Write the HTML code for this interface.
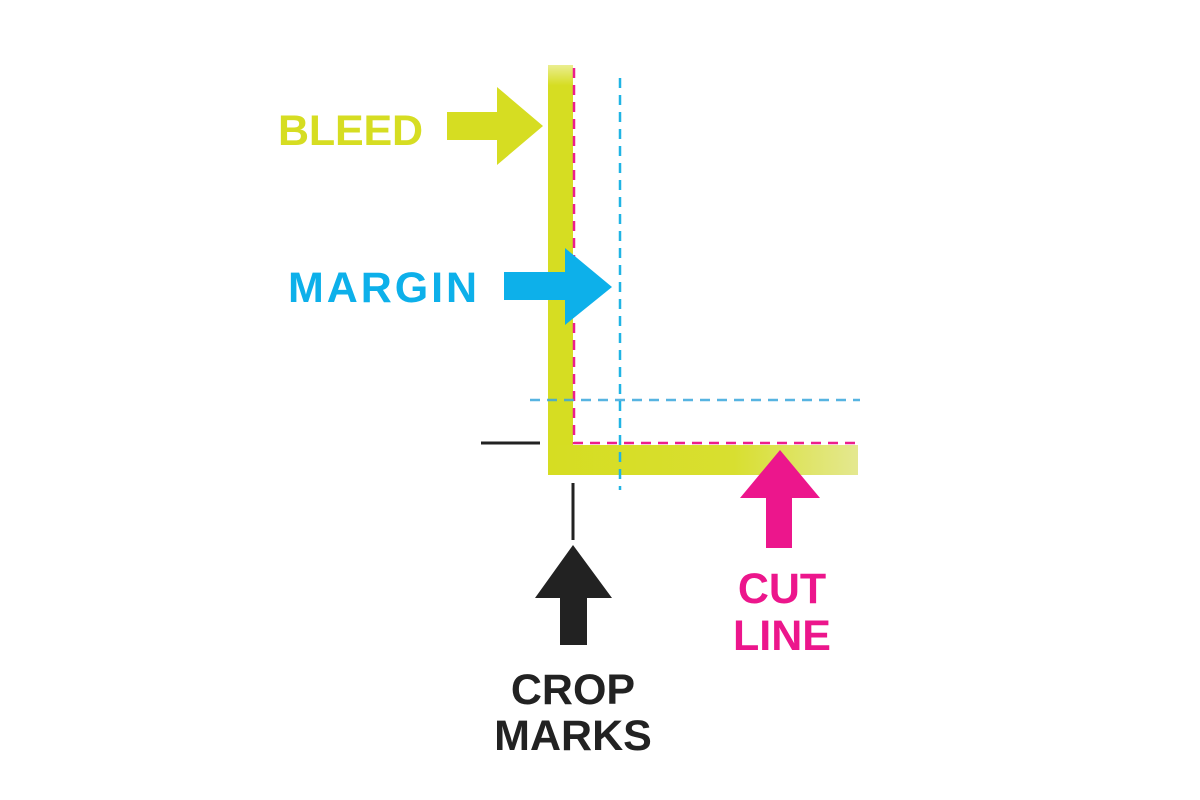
<!DOCTYPE html>
<html><head><style>body{margin:0;background:#fff}svg{display:block}</style></head><body>
<svg width="1200" height="800" xmlns="http://www.w3.org/2000/svg" font-family="Liberation Sans, sans-serif" font-weight="bold">
<defs>
<linearGradient id="gv" x1="0" y1="0" x2="0" y2="1"><stop offset="0" stop-color="#d6dd22" stop-opacity="0.5"/><stop offset="0.05" stop-color="#d6dd22"/><stop offset="1" stop-color="#d6dd22"/></linearGradient>
<linearGradient id="gh" x1="0" y1="0" x2="1" y2="0"><stop offset="0" stop-color="#d6dd22"/><stop offset="0.6" stop-color="#d8df30"/><stop offset="1" stop-color="#e4e890"/></linearGradient>
</defs>
<rect x="548" y="65" width="25" height="410" fill="url(#gv)"/>
<rect x="548" y="445" width="310" height="30" fill="url(#gh)"/>
<path d="M574 68 V443 H858" fill="none" stroke="#ec1e8c" stroke-width="2.5" stroke-dasharray="10 7"/>
<line x1="620" y1="78" x2="620" y2="490" stroke="#20b4e4" stroke-width="2.5" stroke-dasharray="10 7"/>
<line x1="530" y1="400" x2="860" y2="400" stroke="#3aa8dc" stroke-width="2.5" stroke-dasharray="10 7" opacity="0.85"/>
<line x1="481" y1="443" x2="540" y2="443" stroke="#222" stroke-width="3"/>
<line x1="573" y1="483" x2="573" y2="540" stroke="#222" stroke-width="3"/>
<polygon points="447,112 497,112 497,87 543,126 497,165 497,140 447,140" fill="#d6dd22"/>
<polygon points="504,272 565,272 565,248 612,287 565,325 565,300 504,300" fill="#0db0ea"/>
<polygon points="573,545 612,598 587,598 587,645 560,645 560,598 535,598" fill="#222"/>
<polygon points="780,450 820,498 792,498 792,548 766,548 766,498 740,498" fill="#ec168c"/>
<text x="278" y="145" font-size="43" fill="#d6dd22" textLength="145">BLEED</text>
<text x="288" y="302" font-size="43" fill="#0db0ea" textLength="189">MARGIN</text>
<text x="573" y="704" font-size="43" fill="#222" text-anchor="middle">CROP</text>
<text x="573" y="750" font-size="43" fill="#222" text-anchor="middle">MARKS</text>
<text x="782" y="603" font-size="43" fill="#ec168c" text-anchor="middle">CUT</text>
<text x="782" y="650" font-size="43" fill="#ec168c" text-anchor="middle">LINE</text>
</svg>
</body></html>
